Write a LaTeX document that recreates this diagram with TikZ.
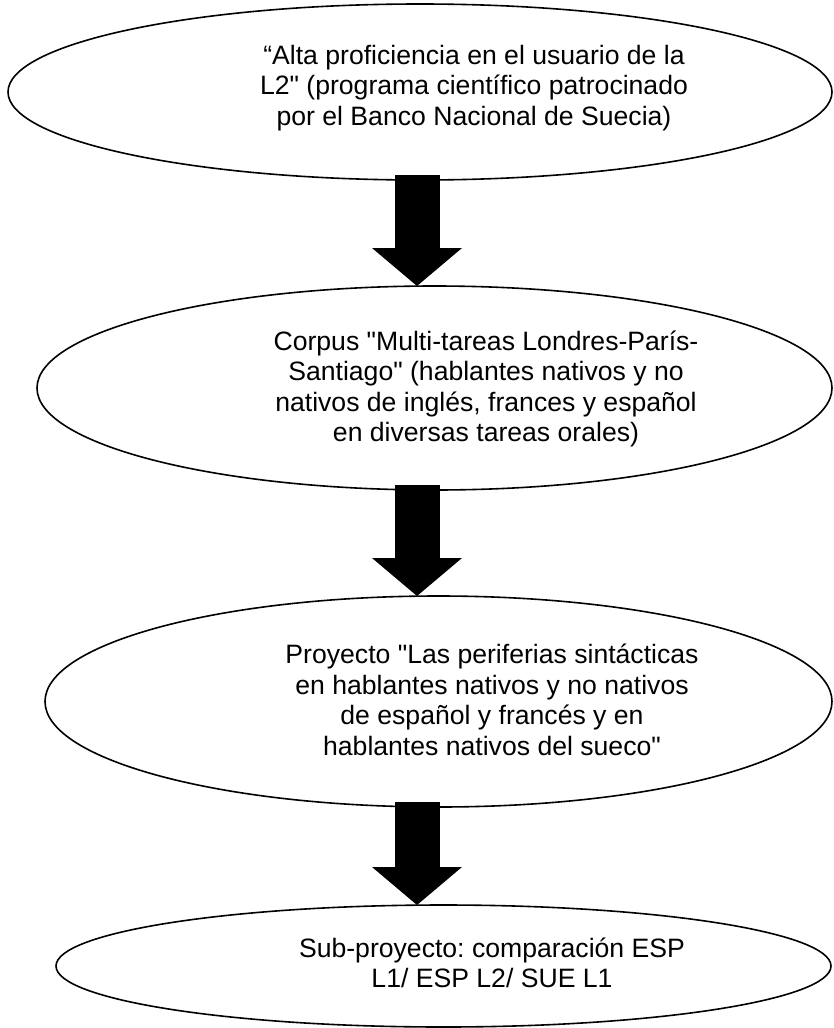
\documentclass[tikz,border=0pt]{standalone}
\usepackage{fontspec}
\setmainfont{Liberation Sans}[Ligatures=TeXOff]
\usetikzlibrary{shapes.geometric,arrows.meta}

\begin{document}
\begin{tikzpicture}[x=1pt,y=-1pt,
    etapa/.style={ellipse,draw,line width=1.6pt,inner sep=0pt,outer sep=0pt},
    texto/.style={align=center,inner sep=0pt,font=\fontsize{26.6}{30.6}\selectfont\frenchspacing},
    bloque/.style={line width=45pt,-{Triangle[width=90pt,length=38pt,line width=0pt]}}
  ]
  \useasboundingbox (0,0) rectangle (834,1028);

  \node[etapa,minimum width=824pt,minimum height=176pt] (e1) at (420,92) {};
  \node[etapa,minimum width=795pt,minimum height=204pt] (e2) at (434.5,388) {};
  \node[etapa,minimum width=787pt,minimum height=211pt] (e3) at (438.5,701.5) {};
  \node[etapa,minimum width=775pt,minimum height=122pt] (e4) at (443.5,966) {};

  \node[texto] (t1) at (474,88) {“Alta proficiencia en el usuario de la\\
    L2" (programa científico patrocinado\\ por el Banco Nacional de Suecia)};
  \node[texto] (t2) at (486,389) {Corpus "Multi-tareas Londres-París-\\
    Santiago" (hablantes nativos y no\\ nativos de inglés, frances y español\\
    en diversas tareas orales)};
  \node[texto] (t3) at (492,700) {Proyecto "Las periferias sintácticas\\
    en hablantes nativos y no nativos\\ de español y francés y en\\
    hablantes nativos del sueco"};
  \node[texto] (t4) at (492,963) {Sub-proyecto: comparación ESP\\ L1/ ESP L2/ SUE L1};

  \coordinate (eje) at (417,0);
  \foreach \a/\b in {e1/e2,e2/e3,e3/e4}
    \draw[bloque] ([yshift=5pt]\a.south -| eje) -- (\b.north -| eje);
\end{tikzpicture}
\end{document}
